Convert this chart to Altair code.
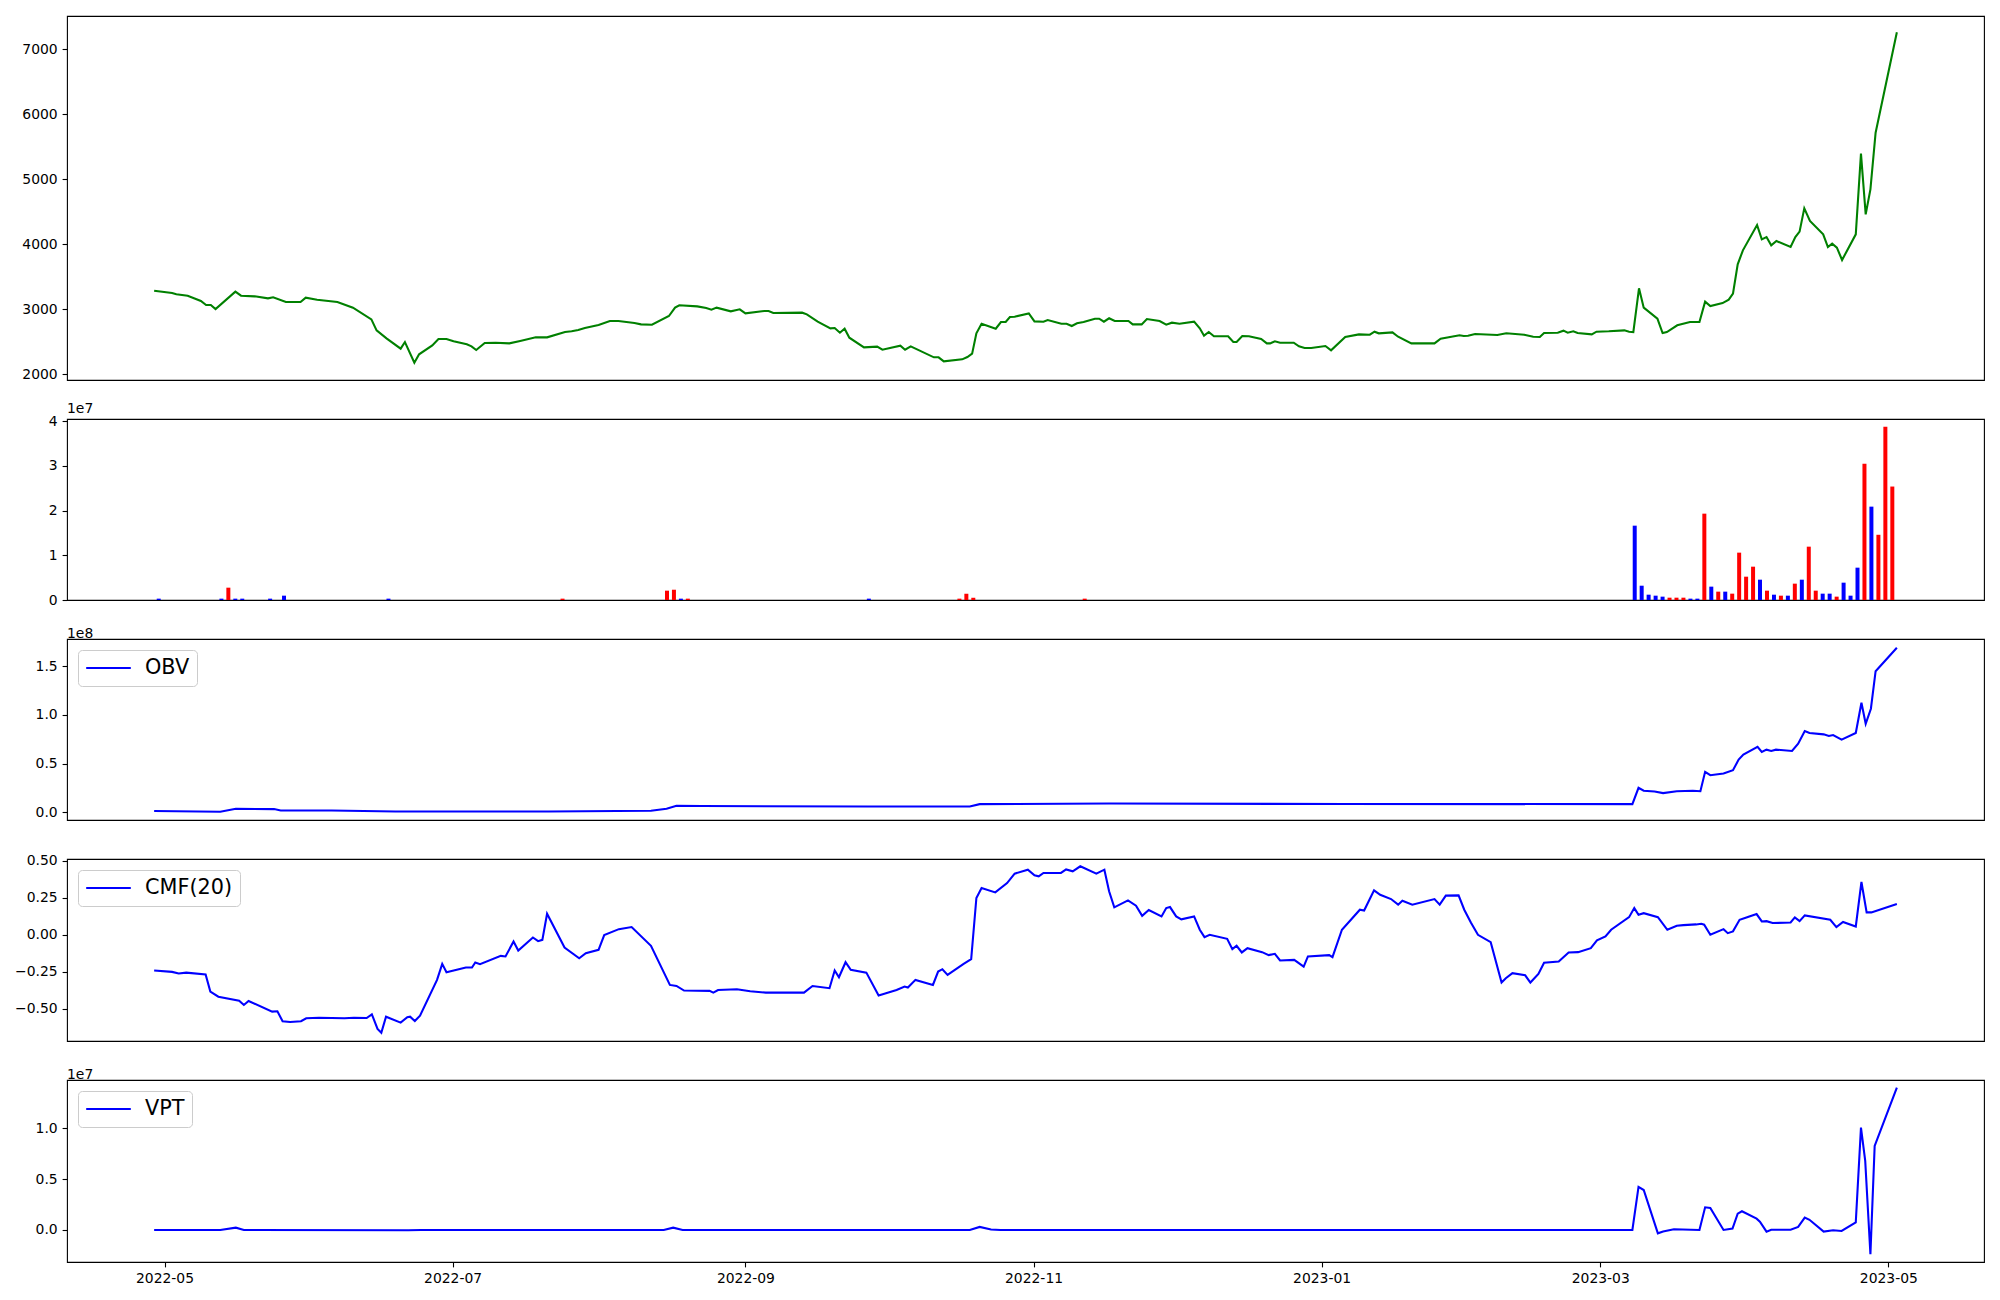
import altair as alt
import numpy as np
import pandas as pd

# ---------------- data (days counted from 2022-05-01) ----------------
price_day = [-2.2, 1.6, 2.5, 4.9, 7.7, 8.8, 9.8, 10.8, 15.0, 16.2, 19.1, 21.9, 23.0, 25.7, 28.8, 29.9,
             32.3, 36.6, 39.9, 43.8, 44.9, 47.0, 50.0, 50.9, 52.9, 53.9, 56.7, 58.0, 59.7, 61.2, 64.0,
             65.0, 66.0, 67.8, 70.1, 73.0, 75.3, 78.6, 81.0, 84.8, 86.2, 87.6, 89.0, 91.9, 94.3, 96.1,
             99.5, 100.9, 103.2, 106.8, 108.1, 109.0, 112.8, 114.7, 115.8, 116.9, 119.9, 121.8, 123.0,
             127.0, 127.9, 128.9, 135.0, 136.0, 138.3, 141.0, 141.9, 143.0, 144.0, 145.0, 148.1, 150.9,
             152.0, 155.8, 156.8, 158.0, 162.9, 163.9, 165.0, 168.9, 170.0, 171.0, 171.9, 173.0, 176.0,
             177.1, 178.1, 179.0, 180.0, 183.0, 184.2, 186.1, 187.0, 189.9, 191.0, 192.1, 193.2, 194.6,
             197.0, 197.9, 198.9, 200.0, 201.2, 204.1, 205.0, 206.9, 208.0, 210.7, 212.1, 213.3, 214.9,
             218.0, 219.2, 220.1, 221.1, 222.2, 225.2, 226.3, 227.0, 228.2, 229.6, 232.2, 233.4, 234.1,
             235.1, 236.2, 239.1, 240.2, 241.4, 242.8, 245.8, 247.0, 250.0, 252.9, 255.2, 256.2, 257.1,
             260.0, 261.2, 264.0, 268.9, 270.2, 274.2, 275.1, 276.0, 277.5, 282.2, 284.1, 287.9, 289.8,
             291.2, 292.1, 295.0, 296.2, 297.1, 298.3, 299.2, 302.2, 303.2, 305.8, 309.1, 310.1, 311.0,
             312.2, 313.2, 316.1, 317.2, 318.1, 320.3, 323.0, 325.0, 326.2, 327.3, 329.9, 331.2, 332.1,
             333.1, 334.2, 337.2, 338.2, 339.2, 340.2, 341.3, 344.3, 345.3, 346.2, 347.2, 348.4, 351.2,
             352.2, 353.1, 354.1, 355.2, 358.1, 359.2, 360.2, 361.2, 362.3, 366.8]
price_val = [3287, 3251, 3231, 3210, 3128, 3067, 3067, 3005, 3272, 3210, 3200, 3169, 3185, 3113, 3113, 3179,
             3149, 3113, 3026, 2846, 2677, 2554, 2395, 2497, 2180, 2308, 2446, 2544, 2544, 2508, 2462,
             2431, 2374, 2482, 2487, 2477, 2513, 2569, 2569, 2651, 2662, 2682, 2713, 2759, 2820, 2820,
             2790, 2769, 2764, 2897, 3026, 3062, 3046, 3020, 2995, 3026, 2969, 3000, 2938,
             2974, 2974, 2944, 2949, 2923, 2810, 2708, 2713, 2641, 2703, 2564, 2415, 2426,
             2379, 2441, 2379, 2431, 2262, 2262, 2200, 2231, 2267, 2318, 2631, 2779, 2703,
             2805, 2805, 2882, 2887, 2938, 2815, 2810, 2836, 2779, 2779, 2744, 2785, 2805,
             2856, 2856, 2810, 2862, 2820, 2820, 2769, 2769, 2851, 2820, 2764, 2795, 2779,
             2810, 2708, 2595, 2651, 2585, 2585, 2497, 2497, 2590, 2585, 2544, 2477, 2477,
             2508, 2487, 2487, 2431, 2405, 2405, 2436, 2369, 2574, 2615, 2610, 2656, 2631,
             2646, 2579, 2477, 2477, 2549, 2600, 2590, 2595, 2621, 2605, 2631, 2610, 2579,
             2574, 2636, 2641, 2672, 2641, 2662, 2636, 2615, 2656, 2662, 2677, 2656, 2651,
             3323, 3026, 2856, 2636, 2651, 2754, 2805, 2805, 3118, 3051, 3097, 3149, 3241,
             3692, 3908, 4297, 4077, 4113, 3985, 4051, 3959, 4113, 4195, 4554, 4359, 4154,
             3959, 4010, 3949, 3759, 4154, 5395, 4461, 4846, 5718, 7262]

vol_day = [-2.19, 11.15, 12.63, 14.11, 15.59, 21.52, 24.48, 46.71, 83.76, 105.99, 107.47, 108.95, 110.43,
           148.96, 168.23, 169.71, 171.19, 194.9,
           311.97, 313.45, 314.93, 316.42, 317.90, 319.38, 320.86, 322.34, 323.83, 325.31, 326.79,
           328.27, 329.75, 331.24, 332.72, 334.20, 335.68, 337.16, 338.64, 340.13, 341.61, 343.09,
           344.57, 346.05, 347.54, 349.02, 350.50, 351.98, 353.46, 354.95, 356.43, 357.91, 359.39,
           360.87, 362.35, 363.84, 365.32, 366.80]
vol_val = [3e5, 3e5, 2.76e6, 3e5, 3e5, 3e5, 9.7e5, 3e5, 3e5, 2.09e6, 2.3e6, 3e5, 3e5,
           3e5, 3e5, 1.4e6, 5e5, 3e5,
           1.664e7, 3.2e6, 1.19e6, 9.7e5, 7.5e5, 5.2e5, 5.2e5, 5.2e5, 3e5, 3e5, 1.933e7,
           2.99e6, 1.87e6, 1.87e6, 1.42e6, 1.06e7, 5.22e6, 7.46e6, 4.55e6, 2.09e6, 1.19e6, 9.7e5,
           9.7e5, 3.66e6, 4.55e6, 1.194e7, 2.09e6, 1.42e6, 1.42e6, 7.5e5, 3.88e6, 9.7e5, 7.24e6,
           3.05e7, 2.09e7, 1.46e7, 3.88e7, 2.54e7]
vol_col = ["blue", "blue", "red", "blue", "blue", "blue", "blue", "blue", "red", "red", "red", "blue", "red",
           "blue", "red", "red", "red", "red",
           "blue", "blue", "blue", "blue", "blue", "red", "red", "red", "blue", "blue", "red",
           "blue", "red", "blue", "red", "red", "red", "red", "blue", "red", "blue", "red",
           "blue", "red", "blue", "red", "red", "blue", "blue", "red", "blue", "blue", "blue",
           "red", "blue", "red", "red", "red"]

obv_day = [-2.2, 11.8, 15.1, 23.2, 24.6, 35.4, 48.9, 81.4, 103.0, 106.3, 108.4, 113.8, 148.9, 170.5,
           172.6, 200.0, 250.0, 310.8, 312.1, 313.2, 315.5, 317.3, 320.2, 323.6, 325.2, 326.2, 327.3,
           330.1, 332.1, 333.3, 334.3, 337.3, 338.2, 339.2, 340.2, 341.2, 344.6, 345.9, 347.3, 348.3,
           351.3, 352.4, 353.3, 355.1, 358.1, 359.3, 360.2, 361.3, 362.3, 366.8]
obv_val = [1.4e6, 0.7e6, 3.7e6, 3.4e6, 2.0e6, 2.0e6, 1.0e6, 1.0e6, 1.7e6, 3.7e6, 6.8e6, 6.5e6, 6.1e6, 6.1e6,
           8.5e6, 9.2e6, 8.6e6, 8.5e6, 2.52e7, 2.22e7, 2.15e7, 1.98e7, 2.18e7, 2.22e7, 2.18e7, 4.16e7, 3.82e7,
           3.99e7, 4.33e7, 5.42e7, 5.93e7, 6.72e7, 6.21e7, 6.44e7, 6.31e7, 6.44e7, 6.31e7, 7.06e7, 8.35e7, 8.15e7,
           8.01e7, 7.84e7, 7.94e7, 7.47e7, 8.15e7, 1.125e8, 9.1e7, 1.064e8, 1.449e8, 1.69e8]

cmf_day = [-2.2, 1.6, 3.0, 4.6, 8.7, 9.7, 11.4, 15.8, 16.8, 17.8, 22.8, 23.9, 25.0, 26.6, 28.9, 30.0, 32.7,
           38.1, 40.1, 42.8, 43.9, 45.1, 45.9, 46.9, 50.0, 51.4, 52.0, 53.0, 54.1, 57.7, 58.8, 59.7, 63.8,
           65.1, 65.8, 66.8, 71.2, 72.2, 73.9, 74.9, 78.0, 79.1, 80.0, 81.0, 84.7, 87.8, 89.2, 91.9, 93.1,
           96.2, 98.9, 103.0, 107.0, 108.4, 110.0, 115.4, 116.2, 117.2, 121.2, 124.0, 127.3, 135.4, 137.2,
           140.8, 141.9, 142.8, 144.2, 145.3, 148.6, 151.2, 155.0, 156.7, 157.4, 159.0, 162.7, 163.8, 164.7,
           165.8, 169.2, 170.8, 171.9, 173.0, 175.9, 178.4, 180.0, 182.8, 184.2, 185.1, 186.1, 189.8, 190.9,
           192.3, 193.9, 197.3, 199.0, 200.0, 201.1, 204.0, 205.7, 207.0, 208.4, 211.1, 212.1, 212.9, 214.2,
           215.3, 218.0, 219.2, 220.2, 221.3, 225.0, 226.1, 227.0, 228.1, 229.3, 232.4, 233.8, 235.1, 236.2,
           239.2, 241.2, 242.1, 246.6, 247.3, 249.3, 253.1, 254.0, 256.1, 257.4, 259.7, 261.2, 262.1, 264.2,
           268.9, 270.0, 271.3, 274.0, 275.2, 276.6, 278.1, 280.8, 283.1, 284.0, 285.4, 288.1, 289.2, 290.9,
           292.1, 295.2, 297.3, 299.3, 302.0, 303.3, 305.1, 306.3, 310.1, 311.2, 312.1, 313.2, 316.2, 318.2,
           320.2, 321.6, 324.3, 325.4, 326.0, 327.3, 330.1, 331.0, 332.1, 333.5, 335.1, 337.1, 338.2, 339.2,
           340.5, 344.3, 345.2, 346.2, 347.3, 352.7, 354.0, 355.4, 358.1, 359.3, 360.4, 361.4, 366.8]
cmf_val = [-0.241, -0.25, -0.261, -0.255, -0.268, -0.383, -0.417, -0.444, -0.473, -0.446, -0.518, -0.516,
           -0.583, -0.588, -0.583, -0.563, -0.559, -0.563, -0.559, -0.561, -0.536, -0.635, -0.66, -0.552,
           -0.592, -0.556, -0.552, -0.581, -0.545, -0.304, -0.196, -0.252, -0.221, -0.221, -0.187, -0.198,
           -0.142, -0.146, -0.045, -0.106, -0.018, -0.043, -0.034, 0.142, -0.086, -0.158, -0.124, -0.101,
           -0.002, 0.038, 0.052, -0.074, -0.338, -0.345, -0.376, -0.378, -0.39, -0.372, -0.367, -0.381,
           -0.39, -0.39, -0.345, -0.36, -0.241, -0.286, -0.185, -0.236, -0.255, -0.41, -0.372, -0.349,
           -0.356, -0.304, -0.338, -0.248, -0.232, -0.27, -0.196, -0.164, 0.248, 0.315, 0.286, 0.349, 0.412,
           0.439, 0.401, 0.394, 0.417, 0.417, 0.441, 0.428, 0.462, 0.412, 0.439, 0.293, 0.185, 0.232, 0.196,
           0.128, 0.167, 0.124, 0.18, 0.187, 0.124, 0.104, 0.124, 0.034, -0.016, 0.0, -0.027, -0.097, -0.074,
           -0.119, -0.09, -0.117, -0.137, -0.128, -0.173, -0.169, -0.214, -0.146, -0.137, -0.151, 0.034,
           0.169, 0.164, 0.3, 0.27, 0.241, 0.203, 0.23, 0.203, 0.241, 0.203, 0.264, 0.266, 0.169, 0.083, 0.0,
           -0.05, -0.322, -0.293, -0.259, -0.273, -0.322, -0.264, -0.189, -0.18, -0.119, -0.117, -0.09,
           -0.038, -0.011, 0.034, 0.119, 0.18, 0.135, 0.146, 0.119, 0.034, 0.061, 0.065, 0.07, 0.074, 0.068,
           0.0, 0.038, 0.011, 0.023, 0.101, 0.119, 0.14, 0.09, 0.092, 0.079, 0.083, 0.117, 0.092, 0.131,
           0.101, 0.052, 0.086, 0.056, 0.356, 0.151, 0.151, 0.207]

vpt_day = [-2.2, 11.8, 15.1, 16.8, 51.6, 54.3, 105.7, 107.7, 109.7, 170.5, 172.6, 175.0, 177.0, 310.8,
           312.1, 313.2, 316.2, 317.3, 319.6, 325.0, 326.2, 327.3, 330.1, 332.0, 333.1, 334.0, 337.1,
           337.8, 339.2, 340.2, 344.3, 345.9, 347.3, 348.3, 351.3, 353.3, 355.1, 358.1, 359.2, 360.1,
           361.2, 362.1, 366.8]
vpt_val = [0, 0, 2.3e5, 0, -3e4, 0, 0, 2.3e5, 0, 0, 3.0e5, 5e4, 0, 0,
           4.23e6, 3.93e6, -3.3e5, -1.6e5, 7e4, 0, 2.23e6, 2.16e6, 0, 1.3e5, 1.61e6, 1.84e6, 1.11e6,
           8.2e5, -1.6e5, 3e4, 3e4, 3.0e5, 1.21e6, 1.0e6, -1.6e5, -3e4, -1.0e5, 7.5e5, 1.007e7, 6.79e6,
           -2.39e6, 8.26e6, 1.40e7]

month_ticks = ["2022-05-01", "2022-07-01", "2022-09-01", "2022-11-01", "2023-01-01", "2023-03-01", "2023-05-01"]

# ---------------- helpers ----------------
BASE = pd.Timestamp("2022-05-01")


def to_dates(days):
    return BASE + pd.to_timedelta(np.asarray(days, dtype=float), unit="D")


def dt(ts):
    ts = pd.Timestamp(ts)
    return alt.DateTime(year=ts.year, month=ts.month, date=ts.day, hours=ts.hour,
                        minutes=ts.minute, seconds=ts.second)


all_days = price_day + vol_day
lo, hi = min(all_days), max(all_days)
pad = 0.05 * (hi - lo)
x_dom = [dt(to_dates([lo - pad])[0]), dt(to_dates([hi + pad])[0])]
x_scale = alt.Scale(domain=x_dom)

W = 1917
FONT = "DejaVu Sans"
FS = 13.9


def x_enc(show):
    if show:
        return alt.X("date:T", scale=x_scale, title=None,
                     axis=alt.Axis(values=[dt(t) for t in month_ticks], format="%Y-%m",
                                   labelFont=FONT, labelFontSize=FS, labelColor="black",
                                   tickColor="black", tickSize=4.9, tickWidth=1.1, labelPadding=4.9,
                                   domain=False, grid=False, labelFlush=False, labelOverlap=False))
    return alt.X("date:T", scale=x_scale, title=None, axis=None)


def y_axis(values, label_expr):
    return alt.Axis(values=values, labelExpr=label_expr, title=None, grid=False, domain=False,
                    labelFont=FONT, labelFontSize=FS, labelColor="black", tickColor="black",
                    tickSize=4.9, tickWidth=1.1, labelPadding=4.9, labelOverlap=False,
                    labelFlush=False)


def legend():
    return alt.Legend(title=None, orient="top-left", offset=11, padding=7,
                      symbolType="stroke", symbolSize=1990, symbolStrokeWidth=2.1,
                      clipHeight=22,
                      labelFont=FONT, labelFontSize=20.8, labelColor="black", labelOffset=13,
                      labelLimit=400, strokeColor="#cccccc", fillColor="white", cornerRadius=4)


def offset_title(txt):
    return alt.TitleParams(txt, anchor="start", frame="group", font=FONT, fontSize=FS,
                           fontWeight="normal", color="black", offset=-2)


# ---------------- panels ----------------
price_df = pd.DataFrame({"date": to_dates(price_day), "v": price_val})
p1 = alt.Chart(price_df).mark_line(color="green", strokeWidth=2.08).encode(
    x=x_enc(False),
    y=alt.Y("v:Q", scale=alt.Scale(domain=[1913, 7513], zero=False, nice=False),
            axis=y_axis([2000, 3000, 4000, 5000, 6000, 7000], "format(datum.value, 'd')")),
).properties(width=W, height=364)

vol_df = pd.DataFrame({"date": to_dates(vol_day), "v": vol_val, "c": vol_col})
p2 = alt.Chart(vol_df).mark_bar(size=4).encode(
    x=x_enc(False),
    y=alt.Y("v:Q", scale=alt.Scale(domain=[0, 4.052e7], nice=False),
            axis=y_axis([0, 1e7, 2e7, 3e7, 4e7], "format(datum.value / 1e7, 'd')")),
    color=alt.Color("c:N", scale=None),
).properties(width=W, height=181, title=offset_title("1e7"))


def indicator(days, vals, name, dom, ticks, expr, h, title=None, show_x=False):
    df = pd.DataFrame({"date": to_dates(days), "v": vals, "s": name})
    ch = alt.Chart(df).mark_line(strokeWidth=2.08).encode(
        x=x_enc(show_x),
        y=alt.Y("v:Q", scale=alt.Scale(domain=dom, zero=False, nice=False), axis=y_axis(ticks, expr)),
        color=alt.Color("s:N", scale=alt.Scale(domain=[name], range=["blue"]), legend=legend()),
    )
    if title:
        return ch.properties(width=W, height=h, title=offset_title(title))
    return ch.properties(width=W, height=h)


p3 = indicator(obv_day, obv_val, "OBV", [-0.078e8, 1.78e8], [0, 0.5e8, 1.0e8, 1.5e8],
               "format(datum.value / 1e8, '.1f')", 181, title="1e8")
p4 = indicator(cmf_day, cmf_val, "CMF(20)", [-0.716, 0.511], [-0.5, -0.25, 0, 0.25, 0.5],
               "format(datum.value, '.2f')", 182)
p5 = indicator(vpt_day, vpt_val, "VPT", [-0.315e7, 1.475e7], [0, 0.5e7, 1.0e7],
               "format(datum.value / 1e7, '.1f')", 182, title="1e7", show_x=True)

chart = alt.vconcat(p1, p2, p3, p4, p5, spacing=39, bounds="flush").resolve_scale(
    x="independent", y="independent", color="independent"
).resolve_legend(color="independent").properties(
    padding={"left": 6, "top": 7, "right": 5, "bottom": 5}
).configure_view(stroke="black", strokeWidth=1.1)

chart.save("out.html", embed_options={"renderer": "svg", "actions": False})
